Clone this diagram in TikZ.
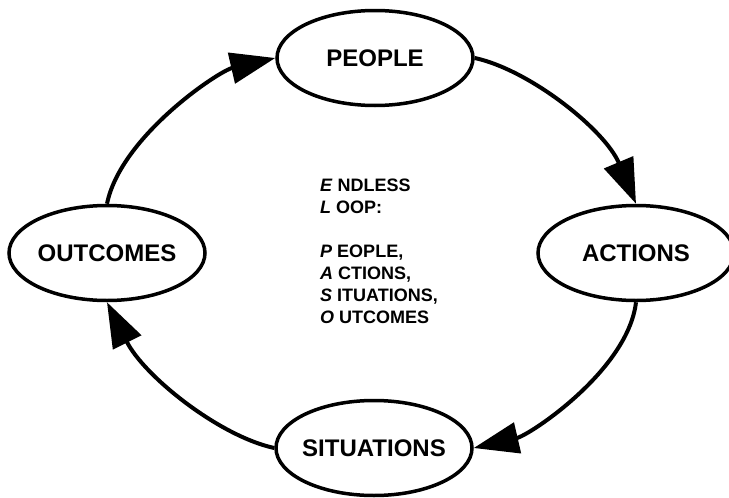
\documentclass[tikz,border=0pt]{standalone}
\usepackage{fontspec}
\setmainfont{Liberation Sans}
\usetikzlibrary{shapes.geometric,arrows.meta}
\tikzset{
  ebox/.style={draw, ellipse, line width=3.5pt, minimum width=196pt, minimum height=95pt, inner sep=0pt},
  elabel/.style={font=\bfseries\fontsize{24}{28}\selectfont},
  flow/.style={line width=4pt, -{Triangle[length=45pt, width=31pt]}},
}
\begin{document}
\begin{tikzpicture}[x=1pt, y=-1pt]
\useasboundingbox (0,0) rectangle (729,498);
\node[ebox, label={[elabel]center:PEOPLE}] (p) at (375,58) {};
\node[ebox, label={[elabel]center:ACTIONS}] (a) at (636,253) {};
\node[ebox, label={[elabel]center:SITUATIONS}] (s) at (374,448) {};
\node[ebox, label={[elabel]center:OUTCOMES}] (o) at (107,253) {};
\draw[flow] (p.east) .. controls (530,70) and (605,130) .. (a.north);
\draw[flow] (a.south) .. controls (628,370) and (530,435) .. (s.east);
\draw[flow] (s.west) .. controls (219,436) and (144,376) .. (o.south);
\draw[flow] (o.north) .. controls (121,136) and (219,71) .. (p.west);
\node[anchor=north west, align=left, inner sep=0pt, font=\bfseries\fontsize{18}{22}\selectfont] (t) at (320,179)
{\textit{E} NDLESS\\
\textit{L} OOP:\\[22pt]
\textit{P} EOPLE,\\
\textit{A} CTIONS,\\
\textit{S} ITUATIONS,\\
\textit{O} UTCOMES};
\end{tikzpicture}
\end{document}
